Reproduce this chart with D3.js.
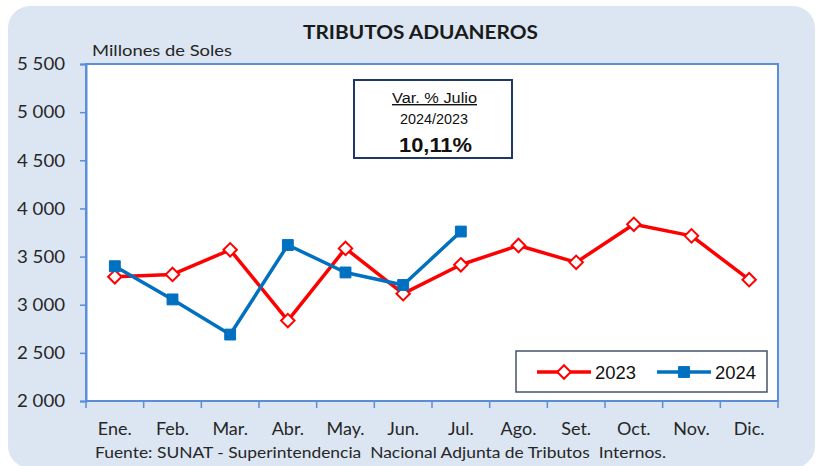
<!DOCTYPE html>
<html>
<head>
<meta charset="utf-8">
<script src="https://cdn.jsdelivr.net/npm/d3@7"></script>
<style>
  html, body { margin: 0; padding: 0; background: #ffffff; }
  svg { display: block; }
</style>
</head>
<body>
<div id="chart"></div>
<script>
// Data (millones de soles)
const months = ['Ene.', 'Feb.', 'Mar.', 'Abr.', 'May.', 'Jun.', 'Jul.', 'Ago.', 'Set.', 'Oct.', 'Nov.', 'Dic.'];
const values2023 = [3290, 3315, 3570, 2835, 3585, 3115, 3415, 3615, 3440, 3835, 3715, 3260];
const values2024 = [3400, 3055, 2690, 3620, 3335, 3205, 3760];
const yTicks = [2000, 2500, 3000, 3500, 4000, 4500, 5000, 5500];
const seriesNames = ['2023', '2024'];

const width = 819;
const height = 466;
const margin = { top: 64, right: 41, bottom: 65, left: 86 };
const innerW = width - margin.left - margin.right;
const innerH = height - margin.top - margin.bottom;

const calibri = 'Lato, "Open Sans", sans-serif';
const arial = '"Liberation Sans", Arial, sans-serif';
const axisBlue = '#5b8ed6';

// helper: the reference text is a bit wider than our fonts, stretch it to fit
const fit = (sel, len) => sel.attr('textLength', len).attr('lengthAdjust', 'spacingAndGlyphs');

const svg = d3.select('#chart')
  .append('svg')
  .attr('width', width)
  .attr('height', height);

// Rounded light-blue background panel
svg.append('rect')
  .attr('x', 8).attr('y', 6)
  .attr('width', 807).attr('height', 462)
  .attr('rx', 22).attr('ry', 22)
  .attr('fill', '#dce6f2');

// Title
svg.append('text')
  .attr('x', 303).attr('y', 39)
  .style('font-family', calibri)
  .style('font-weight', 'bold')
  .style('font-size', '19px')
  .attr('fill', '#1a1a1a')
  .text('TRIBUTOS ADUANEROS')
  .call(fit, 235);

svg.append('text')
  .attr('x', 92).attr('y', 56)
  .style('font-family', calibri)
  .style('font-size', '15px')
  .attr('fill', '#262626')
  .text('Millones de Soles')
  .call(fit, 140);

const plot = svg.append('g')
  .attr('transform', `translate(${margin.left},${margin.top})`);

// Scales
const x = d3.scaleBand().domain(months).range([0, innerW]);
const y = d3.scaleLinear().domain([2000, 5500]).range([innerH, 0]);
const cx = (d, i) => x(months[i]) + x.bandwidth() / 2;

// Plot area
plot.append('rect')
  .attr('width', innerW).attr('height', innerH)
  .attr('fill', '#ffffff')
  .attr('stroke', axisBlue)
  .attr('stroke-width', 2);

// Y axis
const yAxis = plot.append('g')
  .call(d3.axisLeft(y).tickValues(yTicks).tickSize(6).tickPadding(15)
    .tickFormat(d => d3.format(',')(d).replace(',', ' ')));
yAxis.select('.domain').attr('stroke', axisBlue).attr('stroke-width', 2);
yAxis.selectAll('.tick line').attr('stroke', axisBlue).attr('stroke-width', 1.5);
yAxis.selectAll('.tick text')
  .style('font-family', calibri)
  .style('font-size', '18px')
  .attr('fill', '#262626')
  .call(fit, 48);

// X axis: ticks at category boundaries
const xAxis = plot.append('g')
  .attr('transform', `translate(0,${innerH})`);
xAxis.append('line')
  .attr('x1', 0).attr('x2', innerW)
  .attr('stroke', axisBlue).attr('stroke-width', 2);
xAxis.selectAll('.bound')
  .data(d3.range(months.length + 1))
  .join('line')
  .attr('class', 'bound')
  .attr('x1', i => i * x.step()).attr('x2', i => i * x.step())
  .attr('y1', 0).attr('y2', 7)
  .attr('stroke', axisBlue).attr('stroke-width', 1.5);
xAxis.selectAll('.lbl')
  .data(months)
  .join('text')
  .attr('class', 'lbl')
  .attr('x', d => x(d) + x.bandwidth() / 2)
  .attr('y', 34)
  .attr('text-anchor', 'middle')
  .style('font-family', calibri)
  .style('font-size', '18px')
  .attr('fill', '#262626')
  .text(d => d);

// Lines
const line = d3.line().x(cx).y(d => y(d));

plot.append('path')
  .datum(values2023)
  .attr('d', line)
  .attr('fill', 'none')
  .attr('stroke', '#ff0000')
  .attr('stroke-width', 3.5)
  .attr('stroke-linejoin', 'round');

plot.append('path')
  .datum(values2024)
  .attr('d', line)
  .attr('fill', 'none')
  .attr('stroke', '#0070c0')
  .attr('stroke-width', 3.5)
  .attr('stroke-linejoin', 'round');

// Markers
const diamond = d3.symbol().type(d3.symbolDiamond2).size(115);
const square = d3.symbol().type(d3.symbolSquare2).size(150);

plot.selectAll('.m2023')
  .data(values2023)
  .join('path')
  .attr('class', 'm2023')
  .attr('transform', (d, i) => `translate(${cx(d, i)},${y(d)})`)
  .attr('d', diamond)
  .attr('fill', '#ffffff')
  .attr('stroke', '#ff0000')
  .attr('stroke-width', 2);

plot.selectAll('.m2024')
  .data(values2024)
  .join('path')
  .attr('class', 'm2024')
  .attr('transform', (d, i) => `translate(${cx(d, i)},${y(d)})`)
  .attr('d', square)
  .attr('fill', '#0070c0')
  .attr('stroke', '#0070c0')
  .attr('stroke-width', 1);

// Annotation box
const note = svg.append('g');
note.append('rect')
  .attr('x', 354).attr('y', 80)
  .attr('width', 158).attr('height', 78)
  .attr('fill', '#ffffff')
  .attr('stroke', '#203864')
  .attr('stroke-width', 2);
note.append('text')
  .attr('x', 392).attr('y', 103)
  .style('font-family', arial)
  .style('font-size', '14px')
  .style('text-decoration', 'underline')
  .attr('fill', '#111')
  .text('Var. % Julio')
  .call(fit, 85);
note.append('text')
  .attr('x', 400).attr('y', 124)
  .style('font-family', arial)
  .style('font-size', '14px')
  .attr('fill', '#111')
  .text('2024/2023')
  .call(fit, 68);
note.append('text')
  .attr('x', 399).attr('y', 152)
  .style('font-family', arial)
  .style('font-weight', 'bold')
  .style('font-size', '20px')
  .attr('fill', '#111')
  .text('10,11%')
  .call(fit, 73);

// Legend
const legend = svg.append('g');
legend.append('rect')
  .attr('x', 516).attr('y', 351)
  .attr('width', 251).attr('height', 41)
  .attr('fill', '#ffffff')
  .attr('stroke', '#44546a')
  .attr('stroke-width', 1.5);

const legendItems = [
  { name: seriesNames[0], color: '#ff0000', x0: 537, sym: diamond, fill: '#ffffff' },
  { name: seriesNames[1], color: '#0070c0', x0: 657, sym: square, fill: '#0070c0' }
];
legendItems.forEach(it => {
  legend.append('line')
    .attr('x1', it.x0).attr('x2', it.x0 + 54)
    .attr('y1', 372).attr('y2', 372)
    .attr('stroke', it.color).attr('stroke-width', 3.5);
  legend.append('path')
    .attr('transform', `translate(${it.x0 + 27},372)`)
    .attr('d', it.sym)
    .attr('fill', it.fill)
    .attr('stroke', it.color)
    .attr('stroke-width', it.fill === '#ffffff' ? 2 : 1);
  legend.append('text')
    .attr('x', it.x0 + 58).attr('y', 379)
    .style('font-family', arial)
    .style('font-size', '18px')
    .attr('fill', '#111')
    .text(it.name)
    .call(fit, 41);
});

// Source note
svg.append('text')
  .attr('x', 95).attr('y', 458)
  .style('font-family', calibri)
  .style('font-size', '15px')
  .attr('fill', '#262626')
  .attr('xml:space', 'preserve')
  .text('Fuente: SUNAT - Superintendencia  Nacional Adjunta de Tributos  Internos.')
  .call(fit, 571);
</script>
</body>
</html>
